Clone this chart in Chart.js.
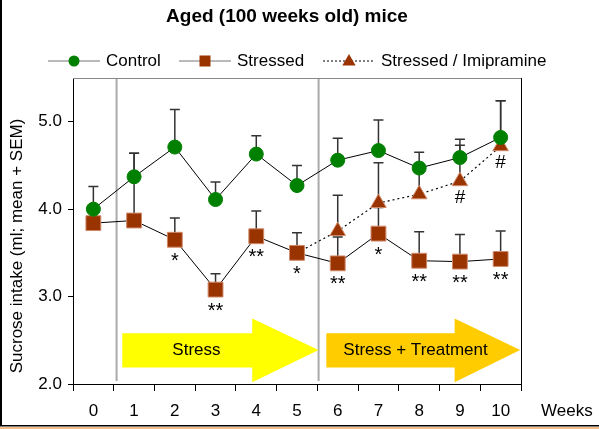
<!DOCTYPE html>
<html>
<head>
<meta charset="utf-8">
<script src="https://cdn.jsdelivr.net/npm/chart.js@4.4.1/dist/chart.umd.min.js"></script>
<style>
    html, body { margin: 0; padding: 0; background: #fff; }
</style>
</head>
<body>
<canvas id="the-graph" width="599" height="429"></canvas>
<script>
/*
 *  Data
 */

const weeks = ['0', '1', '2', '3', '4', '5', '6', '7', '8', '9', '10'];

const controlMean  = [4.00, 4.37, 4.71, 4.11, 4.63, 4.27, 4.56, 4.67, 4.47, 4.59, 4.82];
const controlSem   = [0.26, 0.27, 0.43, 0.20, 0.21, 0.23, 0.25, 0.35, 0.18, 0.21, 0.42];

const stressedMean = [3.84, 3.87, 3.65, 3.08, 3.69, 3.50, 3.38, 3.72, 3.41, 3.40, 3.43];
const stressedSem  = [0.02, 0.77, 0.25, 0.18, 0.29, 0.23, 0.30, 0.30, 0.33, 0.31, 0.32];

const imipMean     = [null, null, null, null, null, 3.50, 3.75, 4.07, 4.17, 4.32, 4.72];
const imipSem      = [null, null, null, null, null, null, 0.41, 0.46, 0.28, 0.41, 0.52];

const stressedSig  = ['', '', '*', '**', '**', '*', '**', '*', '**', '**', '**'];
const imipSig      = ['', '', '', '', '', '', '', '', '', '#', '#'];

const yTicks = [2, 3, 4, 5];

const FONT = "'Liberation Sans', Arial, sans-serif";
const BROWN = '#993300';
const BROWN_EDGE = '#d08a6a';
const GREEN = '#008000';

/*
 *  Drawing helpers
 */

function drawArrow(ctx, xs, ys, x0, xHead, xTip, color)
{
    // body from 2.58 to 2.19, head from 2.75 to 2.02, tip at 2.39
    const bTop = ys.getPixelForValue(2.58), bBot = ys.getPixelForValue(2.19);
    const hTop = ys.getPixelForValue(2.75), hBot = ys.getPixelForValue(2.02);
    const tipY = ys.getPixelForValue(2.39);
    const px0 = xs.getPixelForValue(x0), pxH = xs.getPixelForValue(xHead), pxT = xs.getPixelForValue(xTip);
    ctx.beginPath();
    ctx.moveTo(px0, bTop);
    ctx.lineTo(pxH, bTop);
    ctx.lineTo(pxH, hTop);
    ctx.lineTo(pxT, tipY);
    ctx.lineTo(pxH, hBot);
    ctx.lineTo(pxH, bBot);
    ctx.lineTo(px0, bBot);
    ctx.closePath();
    ctx.fillStyle = color;
    ctx.fill();
}

function drawMarker(ctx, style, x, y, r)
{
    ctx.beginPath();
    if(style === 'circle')
    {
        ctx.arc(x, y, r, 0, Math.PI * 2);
        ctx.fillStyle = GREEN;
        ctx.fill();
    }
    else if(style === 'rect')
    {
        ctx.rect(x - r, y - r, 2 * r, 2 * r);
        ctx.fillStyle = BROWN;
        ctx.fill();
    }
    else
    {
        ctx.moveTo(x, y - r);
        ctx.lineTo(x + r * 0.95, y + r * 0.65);
        ctx.lineTo(x - r * 0.95, y + r * 0.65);
        ctx.closePath();
        ctx.fillStyle = BROWN;
        ctx.fill();
    }
}

const decorPlugin = {
    id: 'decor',
    beforeDatasetsDraw(chart) {
        const ctx = chart.ctx, xs = chart.scales.x, ys = chart.scales.y, area = chart.chartArea;
        ctx.save();

        // phase separators
        ctx.strokeStyle = '#aaaaaa';
        ctx.lineWidth = 2;
        [0.57, 5.53].forEach(v => {
            const px = xs.getPixelForValue(v);
            ctx.beginPath();
            ctx.moveTo(px, area.top);
            ctx.lineTo(px, area.bottom - 3);
            ctx.stroke();
        });

        // phase arrows
        drawArrow(ctx, xs, ys, 0.71, 3.9, 5.53, '#ffff00');
        drawArrow(ctx, xs, ys, 5.72, 8.87, 10.48, '#ffcc00');
        ctx.fillStyle = '#000';
        ctx.font = '17px ' + FONT;
        ctx.textAlign = 'center';
        ctx.textBaseline = 'middle';
        ctx.fillText('Stress', xs.getPixelForValue(2.53), ys.getPixelForValue(2.39));
        ctx.fillText('Stress + Treatment', xs.getPixelForValue(7.91), ys.getPixelForValue(2.39));

        // error bars (mean + SEM)
        const groups = [[controlMean, controlSem], [stressedMean, stressedSem], [imipMean, imipSem]];
        ctx.lineWidth = 1.5;
        ctx.strokeStyle = '#333';
        groups.forEach((g, di) => {
            const meta = chart.getDatasetMeta(di);
            g[0].forEach((m, i) => {
                if(m === null || g[1][i] === null) return;
                const x = meta.data[i].x;
                const y0 = ys.getPixelForValue(m);
                const y1 = ys.getPixelForValue(m + g[1][i]);
                ctx.beginPath();
                ctx.moveTo(x, y0);
                ctx.lineTo(x, y1);
                ctx.moveTo(x - 5, y1);
                ctx.lineTo(x + 5, y1);
                ctx.stroke();
            });
        });
        ctx.restore();
    },
    afterDraw(chart) {
        const ctx = chart.ctx, xs = chart.scales.x, ys = chart.scales.y, area = chart.chartArea;
        ctx.save();

        // plot frame: top grey, right black
        ctx.lineWidth = 1;
        ctx.strokeStyle = '#888';
        ctx.beginPath();
        ctx.moveTo(area.left, area.top + 0.5);
        ctx.lineTo(area.right, area.top + 0.5);
        ctx.stroke();
        ctx.strokeStyle = '#000';
        ctx.beginPath();
        ctx.moveTo(area.right + 0.5, area.top);
        ctx.lineTo(area.right + 0.5, area.bottom);
        ctx.stroke();

        // significance marks
        ctx.fillStyle = '#000';
        ctx.textAlign = 'center';
        ctx.textBaseline = 'alphabetic';
        ctx.font = '20px ' + FONT;
        const sMeta = chart.getDatasetMeta(1), iMeta = chart.getDatasetMeta(2);
        stressedSig.forEach((s, i) => {
            if(s) ctx.fillText(s, sMeta.data[i].x, sMeta.data[i].y + 27);
        });
        ctx.font = '19px ' + FONT;
        imipSig.forEach((s, i) => {
            if(s) ctx.fillText(s, iMeta.data[i].x, iMeta.data[i].y + 22);
        });

        // title
        ctx.font = 'bold 19px ' + FONT;
        ctx.textBaseline = 'middle';
        ctx.fillText('Aged (100 weeks old) mice', 287, 17);

        // legend
        const items = [
            {x: 48, label: 'Control', style: 'circle', r: 5.5, dash: []},
            {x: 179, label: 'Stressed', style: 'rect', r: 5.5, dash: []},
            {x: 323, label: 'Stressed / Imipramine', style: 'tri', r: 7, dash: [2, 2]},
        ];
        items.forEach(it => {
            ctx.strokeStyle = it.dash.length ? '#000' : '#777';
            ctx.lineWidth = 1.2;
            ctx.setLineDash(it.dash);
            ctx.beginPath();
            ctx.moveTo(it.x, 61);
            ctx.lineTo(it.x + 52, 61);
            ctx.stroke();
            ctx.setLineDash([]);
            drawMarker(ctx, it.style, it.x + 26, 61, it.r);
            ctx.fillStyle = '#000';
            ctx.font = '17px ' + FONT;
            ctx.textAlign = 'left';
            ctx.textBaseline = 'middle';
            ctx.fillText(it.label, it.x + 58, 61);
        });

        // axis titles
        ctx.fillText('Weeks', 541, 411);
        ctx.save();
        ctx.translate(17, 246);
        ctx.rotate(-Math.PI / 2);
        ctx.textAlign = 'center';
        ctx.fillText('Sucrose intake (ml; mean + SEM)', 0, 0);
        ctx.restore();

        // outer border: left black, bottom black + orange
        ctx.fillStyle = '#000';
        ctx.fillRect(0, 0, 2, 426);
        ctx.fillRect(0, 425, 599, 1.5);
        ctx.fillStyle = '#f7bd86';
        ctx.fillRect(0, 427, 599, 2);
        ctx.restore();
    }
};

/*
 *  Chart
 */

document.addEventListener("DOMContentLoaded", ()=> {
    const content = document.getElementById('the-graph').getContext('2d');
    new Chart(content, {
        type: 'line',
        data: {
            labels: weeks,
            datasets: [
                {
                    label: 'Control',
                    data: controlMean,
                    borderColor: '#000',
                    borderWidth: 1,
                    pointStyle: 'circle',
                    pointRadius: 7,
                    pointBackgroundColor: GREEN,
                    pointBorderColor: GREEN,
                    pointBorderWidth: 1,
                },
                {
                    label: 'Stressed',
                    data: stressedMean,
                    borderColor: '#000',
                    borderWidth: 1,
                    pointStyle: 'rect',
                    pointRadius: 10.5,
                    pointBackgroundColor: BROWN,
                    pointBorderColor: BROWN_EDGE,
                    pointBorderWidth: 1,
                },
                {
                    label: 'Stressed / Imipramine',
                    data: imipMean,
                    borderColor: '#000',
                    borderWidth: 1.2,
                    borderDash: [2, 3],
                    pointStyle: 'triangle',
                    pointRadius: imipMean.map((v, i) => i === 5 ? 0 : 9),
                    pointBackgroundColor: BROWN,
                    pointBorderColor: BROWN_EDGE,
                    pointBorderWidth: 1,
                },
            ]
        },
        options: {
            responsive: false,
            animation: false,
            layout: { padding: { top: 78, right: 78, left: 0, bottom: 0 } },
            plugins: {
                legend: { display: false },
                title: { display: false },
                tooltip: { enabled: false },
            },
            scales: {
                x: {
                    type: 'category',
                    offset: true,
                    grid: { offset: true, drawOnChartArea: false, color: '#000', tickLength: 7 },
                    border: { color: '#000', width: 1 },
                    ticks: { color: '#000', font: { family: FONT, size: 17 }, padding: 10, maxRotation: 0 },
                    afterFit(scale) { scale.height = 45; },
                },
                y: {
                    min: 2,
                    max: 5.5,
                    grid: { drawOnChartArea: false, color: '#000', tickLength: 5 },
                    border: { color: '#000', width: 1 },
                    afterBuildTicks(scale) { scale.ticks = yTicks.map(v => ({value: v})); },
                    ticks: {
                        color: '#000',
                        font: { family: FONT, size: 17 },
                        padding: 6,
                        callback: v => v.toFixed(1),
                    },
                    afterFit(scale) { scale.width = 73; },
                }
            }
        },
        plugins: [decorPlugin]
    });
});
</script>
</body>
</html>
